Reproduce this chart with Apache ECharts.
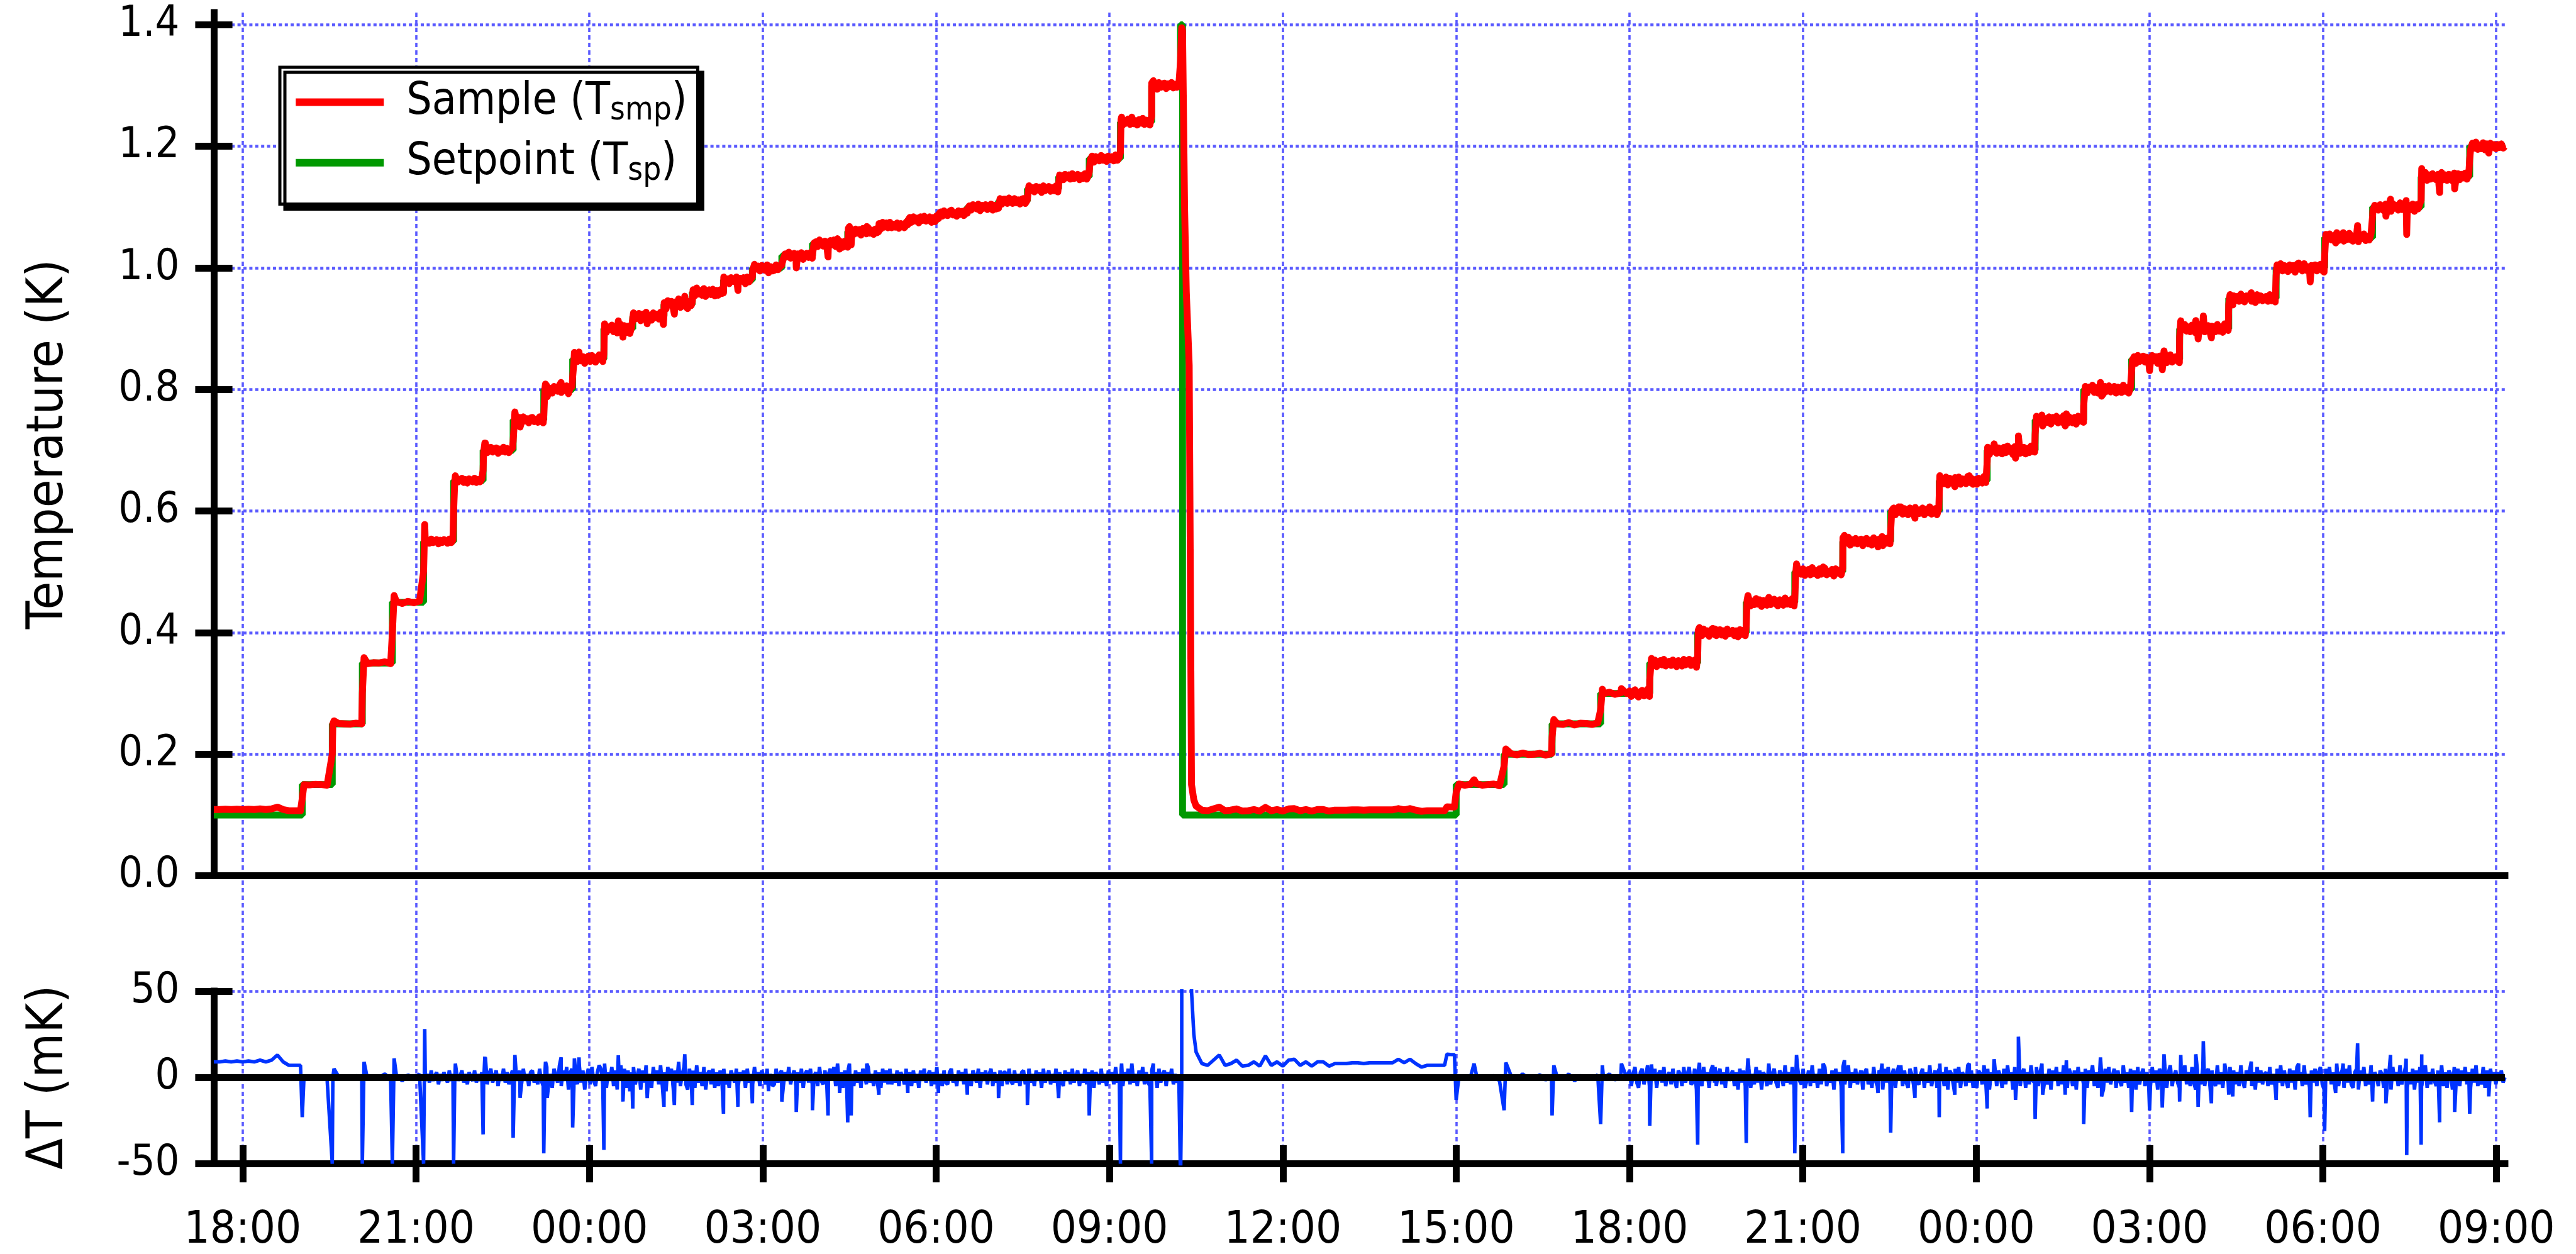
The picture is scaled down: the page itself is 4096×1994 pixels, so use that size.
<!DOCTYPE html>
<html><head><meta charset="utf-8">
<script src="https://cdn.jsdelivr.net/npm/echarts@6/dist/echarts.min.js"></script>
<style>html,body{margin:0;padding:0;background:#fff}#c{width:4096px;height:1994px}</style>
</head><body><div id="c"></div>
<script>
// ---- x axis: hours after 18:00 on day 1 ----
const tickHours  = [0, 3, 6, 9, 12, 15, 18, 21, 24, 27, 30, 33, 36, 39];
const tickLabels = ['18:00','21:00','00:00','03:00','06:00','09:00','12:00','15:00','18:00','21:00','00:00','03:00','06:00','09:00'];
const tempTicks  = [0, 0.2, 0.4, 0.6, 0.8, 1.0, 1.2, 1.4];
const dtTicks    = [-50, 0, 50];
const xMin = -0.5, xMax = 39.15;

// ---- setpoint steps (start hour, level in K) ----
const spStart = [-0.5, 1.03, 1.55, 2.07, 2.59, 3.13, 3.65, 4.16, 4.68, 5.21, 5.71, 6.25, 6.75, 7.29, 7.78, 8.32, 8.82, 9.33, 9.86, 10.47, 11.01, 11.51, 12.04, 12.54, 13.08, 13.58, 14.12, 14.65, 15.19, 15.73, 16.23, 16.265, 21.00, 21.83, 22.66, 23.50, 24.35, 25.18, 26.02, 26.86, 27.69, 28.52, 29.36, 30.19, 31.02, 31.86, 32.69, 33.52, 34.37, 35.19, 36.03, 36.86, 37.70, 38.54];
const spLevel = [0.10, 0.15, 0.25, 0.35, 0.45, 0.55, 0.65, 0.70, 0.75, 0.80, 0.85, 0.90, 0.92, 0.94, 0.96, 0.98, 1.00, 1.02, 1.04, 1.06, 1.07, 1.08, 1.09, 1.10, 1.11, 1.13, 1.15, 1.18, 1.24, 1.30, 1.40, 0.10, 0.15, 0.20, 0.25, 0.30, 0.35, 0.40, 0.45, 0.50, 0.55, 0.60, 0.65, 0.70, 0.75, 0.80, 0.85, 0.90, 0.95, 1.00, 1.05, 1.10, 1.15, 1.20];

// ---- ΔT = Tsmp - Tsp (mK), read segment by segment ----
const dtN0Span = [-0.5, 1.0];
const dtN0 = [9,9,9.5,9,9.5,9,9.5,9,10,9,10,13,9,7,7,7];
const dtN1Span = [1.06, 3.16];
const dtN1 = [0,-0.5,0.5,0,-1,0,0.5,0,-0.5,1,0,-1,0.5,0,2,-1,1,-2,1.5,-1,2,-2];
const dtN2Span = [3.2, 16.2];
const dtN2 = [
 2,-3,4,-2,1,3,-4,2,-2,3,0,-3,4,-2,2,-3,3,-2,1,4,-3,2,-4,3,0,-2,4,-3,2,-2,3,-4,
 3,-4,2,5,-3,1,4,-5,2,-2,5,-3,3,-4,1,4,-5,3,-2,4,-4,5,-2,2,-5,3,4,-3,1,-4,5,-2,
 -5,3,6,-4,2,-6,5,1,-3,7,-5,4,-2,6,-7,3,5,-6,2,-4,7,-3,4,-7,1,5,-4,6,-2,-5,3,7,
 5,-4,8,-6,3,-2,6,-5,4,-7,2,7,-3,5,-6,4,-8,3,6,-4,1,5,-7,4,-3,7,-5,2,-6,6,-2,4,
 -4,7,-5,3,-8,6,1,5,-6,4,-3,9,-5,2,6,-4,-7,5,-2,4,-6,7,-3,3,-5,6,-7,2,4,-4,5,-6,
 3,-5,4,-2,5,-4,2,-6,4,1,-3,5,-5,3,-2,4,-6,5,-3,2,-4,6,-2,3,-5,4,1,-4,5,-3,2,-5,
 -4,5,-3,2,4,-5,3,-2,6,-4,1,4,-5,3,-3,5,-6,2,4,-3,5,-4,1,3,-5,6,-2,-4,4,-3,2,5,
 -2,6,-5,8,-4,3,-6,4,-2,5,-4,2,-5,4,-3,3,-6,5,1,-4,6,-3,2,-5,4,-2,3,-6,5,-3,4,-4,
 5,-4,2,-3,4,-5,3,1,-4,5,-2,3,-5,4,-3,2,-6,4,-2,5,-3,1,4,-5,3,-4,6,-2,2,-5,4,-3,
 -4,3,5,-3,1,-5,4,-2,3,-4,5,-3,2,-5,4,1,-3,5,-6,3,-2,4,-4,2,5,-5,3,-3,1,4,-5,3,
 3,-4,5,-2,-4,4,-3,2,-5,3,4,-4,1,5,-3,2,-5,4,-2,3,-6,5,-3,1,4,-4,2,-3,5,-5,3,-2,
 -5,4,-2,3,-4,5,-3,1,4,-5,2,-3,5,-4,3,-2,4,-6,3,1,-4,5,-3,2,-5,4,-2,3,-4,6,-3,2,
 4,-5,3,-2,5,-4,8,-3,2,-5,4,-2,6,-4,3,-3,-5,4,-2,3,-6,5,-3,2,4,-5,3,-2,5,-4,2,-3,
 1];
const dtDropT = [16.23, 16.25, 16.265, 16.30, 16.33, 16.38, 16.42, 16.46];
const dtDropV = [-60, -5, 1290, 1000, 860, 740, 50, 25];
const dtN3Span = [16.5, 20.9];
const dtN3 = [14.6,8,7,10,13,7,8,10,6.5,7,9,6.5,12.5,7,9,6.5,10,10.5,7,9,6.5,9,9,6.5,8,8,8,8.5,8.5,8,8.5,8.5,8.5,8.5,8.5,10.5,8.5,10.5,8,6,7,7,7,7,13.3];
const dtN4Span = [21.05, 23.95];
const dtN4 = [1,-1,0.5,1.5,-1,0,1,-2,0.5,1,-1,2,-0.5,0,1.5,-1.5,1,0,-1,2,-2,1,0.5,-1,1.5,-0.5,2,-1.5,1,0];
const dtN5Span = [24.0, 39.15];
const dtN5 = [
 4,-5,2,6,-3,-6,3,5,-4,1,7,-5,3,-2,5,-6,2,4,-3,6,-5,1,3,-4,5,-2,-6,4,2,-5,6,-3,
 2,6,-4,-3,5,-7,4,1,-5,6,-2,3,-6,4,7,-3,-5,2,5,-4,3,-6,6,-2,1,4,-5,3,-7,5,-3,4,
 -5,3,5,-6,2,-4,6,-3,4,-7,3,1,-5,8,-4,2,5,-3,-6,4,2,-5,7,-3,3,-4,6,-6,1,5,-2,-4,
 5,-6,-2,4,-5,7,-3,2,-6,5,-4,3,6,-5,1,-3,4,-7,5,-2,3,-5,6,-4,2,7,-6,3,-3,5,-4,1,
 4,-7,3,5,-4,2,-6,6,-2,-5,4,3,-7,5,-3,6,-4,1,5,-6,3,-2,7,-5,4,-3,-6,5,2,-4,6,-3,
 -4,2,5,-6,3,-3,7,-5,1,4,-6,5,-2,3,-5,6,-7,4,2,-4,5,-3,6,-6,3,1,-5,7,-3,4,-6,2,
 -6,4,2,-4,7,-3,5,-7,3,-2,6,-5,4,1,-6,5,-4,7,-2,3,-7,6,-3,4,-5,2,5,-6,3,-4,7,-2,
 -3,6,-5,3,8,-6,2,-4,5,-7,4,-2,6,-5,3,-4,7,-3,-6,5,2,-5,4,-7,6,-2,3,-4,5,-6,4,1,
 7,-5,3,-6,4,2,-7,5,-3,6,-4,1,5,-6,4,-2,-5,7,-3,3,-6,5,-2,4,-7,6,-4,2,5,-5,3,-3,
 -5,6,-3,4,-7,5,2,-4,6,-6,3,7,-5,1,4,-3,-6,5,-2,7,-4,3,-5,6,-3,-7,4,2,-4,6,-5,3,
 5,-6,4,-2,-5,7,-4,3,-6,5,2,-3,6,-7,4,-4,3,-5,7,-2,-6,4,1,5,-5,3,-7,6,-3,4,-4,2,
 3,-5,6,-4,2,-6,5,-3,7,-5,4,-2,-6,5,-3,4,-7,6,-2,3,-5,7,-4,2,-6,4,-3,5,-5,3,6,-4,
 -7,5,-2,6,-4,3,-6,8,-5,2,4,-6,5,-3,7,-4,-6,3,5,-7,4,-2,6,-5,2,-4,7,-6,3,1,-5,4,
 2,-6,5,-3,4,-7,6,-2,3,-5,7,-4,1,6,-6,3,-4,5,-7,4,-3,6,-5,2,7,-6,3,-4,5,-2,-5,4,
 -4,7,-5,3,-6,4,2,-7,6,-3,5,-5,4,-2,6,-4,3,-6,5,-3,7,-5,2,-4,6,-6,4,-3,5,-2,3,-4,
 3,-2,4,-3,0];
// isolated spikes (hour, mK)
const dtSpikeT = [1.03,1.55,1.58,2.07,2.10,2.59,2.62,3.13,3.15,3.65,3.68,4.16,4.19,4.20,4.68,4.71,4.80,5.21,5.24,5.27,5.51,5.71,5.74,5.82,6.25,6.28,6.50,6.58,6.75,7.00,7.28,7.29,7.47,7.65,7.78,8.32,8.57,8.82,9.10,9.33,9.58,9.86,10.13,10.33,10.47,10.50,10.53,10.80,11.01,11.51,12.04,12.54,13.08,13.58,14.12,14.65,15.19,15.21,15.73,15.76,
 20.84,20.97,21.00,21.31,21.83,21.86,22.66,22.69,23.50,23.53,23.86,24.35,24.38,25.18,25.21,25.48,26.02,26.05,26.86,26.89,27.18,27.35,27.69,27.72,28.30,28.37,28.52,28.66,28.94,29.36,29.37,29.63,29.88,30.19,30.31,30.68,30.73,31.02,31.15,31.54,31.56,31.86,32.15,32.17,32.69,33.00,33.22,33.25,33.52,33.54,33.80,33.84,33.93,34.07,34.30,34.37,34.44,34.76,35.19,35.58,35.78,36.03,36.22,36.35,36.60,36.86,37.09,37.17,37.44,37.45,37.70,37.71,38.02,38.28,38.54,38.87];
const dtSpikeV = [-23,-50,5,-50,9,-50,11,-50,28,-50,8,-33,12,11.6,-35,13,-11.8,-44,9,-11.8,11.6,-29,11,11.6,-42,8,12.8,-14,-18,-12,-13,-17,-16,13.4,-16,-21,-17,-15,-8,-14,-20,-19,-22,-9,-26,8,-22,8,-10,-9,-9,-10,-12,-16,-12,-22,-50,8,-50,8,
 13.4,13.2,-13,8,-19,8.6,-22,7,-27,7,8,-28,7.5,-39,8.5,6,-38,11,-44,13,7,8,-44,10,-9,8,-32,7,-11.8,-23,8,-10,8,-18,10.5,-13,23.6,-24,-10,-10,9.9,-27,11.6,-11,-20,-19,-17.5,13.4,-14,13,13.4,-17,21,-15,8,-10,-11,9.2,-13,8,-23,-31,-9,8,19.7,-14,-15,13,10.8,-45,-39,13.4,-26,-20,-21,-11];

// ---- build series from the arrays ----
function seg(span, vals, out) {
  const n = vals.length;
  for (let i = 0; i < n; i++) out.push([span[0] + i * (span[1] - span[0]) / (n - 1), vals[i]]);
}
const dtAll = [];
seg(dtN0Span, dtN0, dtAll); seg(dtN1Span, dtN1, dtAll); seg(dtN2Span, dtN2, dtAll);
dtDropT.forEach((t, i) => dtAll.push([t, dtDropV[i]]));
seg(dtN3Span, dtN3, dtAll); seg(dtN4Span, dtN4, dtAll); seg(dtN5Span, dtN5, dtAll);
dtSpikeT.forEach((t, i) => dtAll.push([t, dtSpikeV[i]]));
dtAll.sort((a, b) => a[0] - b[0]);

function spAt(t) { let v = spLevel[0]; for (let i = 0; i < spStart.length; i++) { if (spStart[i] <= t + 1e-9) v = spLevel[i]; } return v; }
const sampleData = dtAll.map(([t, d]) => [t, spAt(t) + d / 1000]);
const setpointData = spStart.map((t, i) => [t, spLevel[i]]).concat([[xMax, spLevel[spLevel.length - 1]]]);

// ---- style ----
const FONT = "'DejaVu Sans Condensed','DejaVu Sans',sans-serif";
const GRIDC = '#5a5aff';
const AXW = 10.9, TICKL = 29.6;
const L = 340, R = 113;

const chart = echarts.init(document.getElementById('c'), null, {renderer: 'canvas'});
const axLine = {show: true, onZero: false, lineStyle: {color: '#000', width: AXW, cap: 'square'}};
const noLine = {show: false, onZero: false};
const tick = (vals, inside) => ({show: true, inside: inside, length: TICKL, customValues: vals, lineStyle: {color: '#000', width: AXW}});
const xBase = {type: 'value', min: xMin, max: xMax, position: 'bottom'};
const hGrid = {show: true, lineStyle: {color: GRIDC, width: 4.6, type: [5, 4.4]}};

chart.setOption({
  animation: false,
  backgroundColor: '#fff',
  grid: [
    {left: L, right: R, top: 20, height: 1372.6, outerBoundsMode: 'none'},
    {left: L, right: R, top: 1575.9, height: 274.6, outerBoundsMode: 'none'},
    {left: L, right: R, top: 20, height: 1830.5, outerBoundsMode: 'none'}
  ],
  xAxis: [
    Object.assign({gridIndex: 0, axisLine: axLine, axisTick: {show: false}, axisLabel: {show: false}, splitLine: {show: false}}, xBase),
    Object.assign({gridIndex: 1, axisLine: axLine, axisTick: tick(tickHours, false),
      axisLabel: {show: true, customValues: tickHours, margin: 71, fontSize: 72, fontFamily: FONT, color: '#000',
        formatter: v => tickLabels[tickHours.indexOf(Math.round(v))] || ''},
      splitLine: {show: false}}, xBase),
    Object.assign({gridIndex: 1, axisLine: noLine, axisTick: tick(tickHours, true), axisLabel: {show: false}, splitLine: {show: false}}, xBase),
    Object.assign({gridIndex: 2, axisLine: noLine, axisTick: {show: false, customValues: tickHours}, axisLabel: {show: false},
      splitLine: {show: true, lineStyle: {color: GRIDC, width: 3.6, type: [7, 5]}}}, xBase)
  ],
  yAxis: [
    {gridIndex: 0, type: 'value', min: 0, max: 1.42, position: 'left', axisLine: axLine, axisTick: tick(tempTicks, false),
      axisLabel: {show: true, customValues: tempTicks, margin: 54.5, fontSize: 68, fontFamily: FONT, color: '#000', formatter: v => v.toFixed(1)},
      splitLine: hGrid,
      name: 'Temperature (K)', nameLocation: 'middle', nameRotate: 90, nameGap: 222,
      nameTextStyle: {fontSize: 81, fontFamily: FONT, color: '#000'}},
    {gridIndex: 0, type: 'value', min: 0, max: 1.42, position: 'left', axisLine: noLine, axisTick: tick(tempTicks, true),
      axisLabel: {show: false}, splitLine: {show: false}},
    {gridIndex: 1, type: 'value', min: -50, max: 50, interval: 50, position: 'left', axisLine: axLine, axisTick: tick(dtTicks, false),
      axisLabel: {show: true, customValues: dtTicks, margin: 54.5, fontSize: 68, fontFamily: FONT, color: '#000'},
      splitLine: hGrid,
      name: 'ΔT (mK)', nameLocation: 'middle', nameRotate: 90, nameGap: 222,
      nameTextStyle: {fontSize: 81, fontFamily: FONT, color: '#000'}},
    {gridIndex: 1, type: 'value', min: -50, max: 50, interval: 50, position: 'left', axisLine: noLine, axisTick: tick(dtTicks, true),
      axisLabel: {show: false}, splitLine: {show: false}},
    {gridIndex: 2, type: 'value', min: 0, max: 1, show: false}
  ],
  legend: {
    data: ['Sample', 'Setpoint'], orient: 'vertical', left: 445, top: 107,
    itemWidth: 140, itemHeight: 12, itemGap: 20.7, icon: 'rect', selectedMode: false,
    padding: [20, 16.7, 25.8, 25.3],
    borderColor: '#000', borderWidth: 5, backgroundColor: '#fff',
    shadowColor: '#000', shadowOffsetX: 8, shadowOffsetY: 8, shadowBlur: 0,
    formatter: name => name === 'Sample' ? '{n|Sample (T}{s|smp}{n|)}' : '{n|Setpoint (T}{s|sp}{n|)}',
    textStyle: {padding: [0, 0, 0, 31], rich: {
      n: {fontSize: 71, lineHeight: 80, fontFamily: FONT, color: '#000'},
      s: {fontSize: 51, lineHeight: 22, verticalAlign: 'bottom', fontFamily: FONT, color: '#000'}
    }}
  },
  series: [
    {name: 'Setpoint', type: 'line', xAxisIndex: 0, yAxisIndex: 0, data: setpointData, step: 'end', showSymbol: false, symbol: 'none',
      color: '#009900', lineStyle: {color: '#009900', width: 10.9}, z: 2, silent: true},
    {name: 'Sample', type: 'line', xAxisIndex: 0, yAxisIndex: 0, data: sampleData, showSymbol: false, symbol: 'none',
      color: '#ff0000', lineStyle: {color: '#ff0000', width: 10.9, join: 'round'}, z: 3, silent: true},
    {name: 'zero', type: 'line', xAxisIndex: 1, yAxisIndex: 2, data: [[xMin, 0]], showSymbol: false, symbol: 'none',
      lineStyle: {width: 0}, z: 1, silent: true,
      markLine: {silent: true, symbol: 'none', label: {show: false}, animation: false,
        lineStyle: {color: '#000', width: AXW, type: 'solid'}, data: [{yAxis: 0}]}},
    {name: 'dT', type: 'line', xAxisIndex: 1, yAxisIndex: 2, data: dtAll, showSymbol: false, symbol: 'none',
      color: '#0033ff', lineStyle: {color: '#0033ff', width: 5.6}, z: 3, silent: true}
  ]
});
</script></body></html>
